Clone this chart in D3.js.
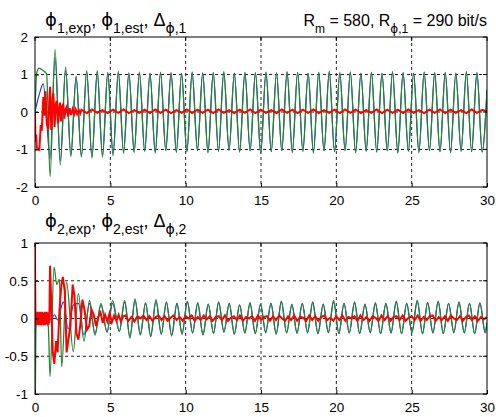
<!DOCTYPE html>
<html><head><meta charset="utf-8">
<script src="https://cdn.jsdelivr.net/npm/d3@7"></script>
<style>body{margin:0;background:#fff}svg{display:block;font-family:Arial,"Liberation Sans",sans-serif}</style>
</head><body><svg id="c" width="496" height="417"></svg>
<script>
// ---------- tick labels ----------
const xTicks = [0, 5, 10, 15, 20, 25, 30];
const yTicks1 = [-2, -1, 0, 1, 2];
const yTicks2 = [-1, -0.5, 0, 0.5, 1];

// ---------- panel 1 (phi_1) ----------
const t1Grid = [1.33,1.68,2.03,2.38,2.73,3.08,3.43,3.78,4.13,4.48,4.83,5.18,5.53,5.88,6.23,6.58,6.93,7.28,7.63,7.98,8.33,8.68,9.03,9.38,9.73,10.08,10.43,10.78,11.13,11.48,11.83,12.18,12.53,12.88,13.23,13.58,13.93,14.28,14.63,14.98,15.33,15.68,16.03,16.38,16.73,17.08,17.43,17.78,18.13,18.48,18.83,19.18,19.53,19.88,20.23,20.58,20.93,21.28,21.63,21.98,22.33,22.68,23.03,23.38,23.73,24.08,24.43,24.78,25.13,25.48,25.83,26.18,26.53,26.88,27.23,27.58,27.93,28.28,28.63,28.98,29.33,29.68];
const t1Head = [0, 0.11, 0.27, 0.55, 0.77, 1.0];
const t1Tail = [30];
// green: phi_1,est
const g1Head = [0, 1.04, 1.17, 1.10, 1.02, -1.72];
const g1Grid = [1.67,-1.41,1.20,-1.19,0.94,-1.20,1.11,-1.23,1.10,-1.20,1.05,-1.17,1.08,-1.10,1.03,-1.08,1.07,-1.04,1.02,-1.10,1.06,-1.02,1.04,-1.08,1.00,-1.05,1.07,-1.02,1.03,-1.09,1.05,-1.04,1.08,-1.00,1.02,-1.07,1.06,-1.03,1.04,-1.10,1.07,-1.05,1.03,-1.02,1.08,-1.08,1.05,-1.04,1.02,-1.10,1.06,-1.03,1.09,-1.06,1.04,-1.02,1.07,-1.09,1.03,-1.04,1.06,-1.07,1.02,-1.03,1.08,-1.10,1.05,-1.04,1.03,-1.08,1.07,-1.02,1.04,-1.06,1.06,-1.09,1.03,-1.04,1.08,-1.05,1.05,-1.07];
const g1Tail = [0.60];
// blue: phi_1,exp
const b1Head = [0, 0.20, 0.45, 0.75, -0.20, -1.25];
const b1Grid = [1.45,-1.30,1.12,-1.15,0.95,-1.17,1.08,-1.20,1.07,-1.16,1.06,-1.12,1.05,-1.08,1.05,-1.06,1.04,-1.05,1.04,-1.07,1.05,-1.03,1.05,-1.06,1.03,-1.06,1.05,-1.03,1.05,-1.07,1.06,-1.05,1.06,-1.03,1.04,-1.06,1.05,-1.04,1.05,-1.08,1.06,-1.06,1.05,-1.03,1.06,-1.07,1.06,-1.05,1.04,-1.08,1.05,-1.04,1.07,-1.06,1.05,-1.03,1.06,-1.08,1.04,-1.05,1.05,-1.06,1.04,-1.04,1.06,-1.08,1.05,-1.05,1.04,-1.07,1.06,-1.03,1.05,-1.06,1.05,-1.08,1.04,-1.05,1.06,-1.06,1.05,-1.06];
const b1Tail = [0.55];
// red: Delta_phi,1
const r1HeadT = [0,0.03,0.08,0.12,0.29,0.38,0.45,0.55,0.62,0.70,0.78,0.88,0.95,1.00,1.08,1.17,1.22,1.30,1.38,1.44,1.52,1.60,1.66,1.72,1.80,1.88,1.95,2.02,2.10,2.20,2.30,2.40,2.50,2.60,2.70,2.80,2.90,3.00];
const r1HeadV = [0,-0.80,-0.60,-0.95,-1.00,-0.35,-0.50,0.40,-0.10,0.55,-0.30,-0.45,0.30,0.67,-0.48,0.35,0.50,-0.40,0.20,0.30,-0.30,0.10,0.25,-0.25,0.15,0.20,-0.18,0.05,0.13,-0.12,0.10,-0.08,0.08,-0.06,0.07,-0.05,0.06,-0.04];
const r1GridV = [0.06,-0.03,0.07,-0.02,0.05,-0.03,0.06,-0.02,0.07,-0.03,0.05,-0.02,0.06,-0.03,0.07,-0.02,0.06,-0.03,0.05,-0.02,0.07,-0.03,0.06,-0.02,0.06,-0.03,0.07,-0.02,0.05,-0.03,0.06,-0.02,0.07,-0.03,0.06,-0.02,0.05,-0.03,0.07,-0.02,0.06,-0.03,0.06,-0.02,0.07,-0.03,0.05,-0.02,0.06,-0.03,0.07,-0.02,0.06,-0.03,0.05,-0.02,0.07,-0.03,0.06,-0.02,0.06,-0.03,0.07,-0.02,0.05,-0.03,0.06,-0.02,0.07,-0.03,0.06,-0.02,0.05,-0.03,0.07,-0.02,0.06];
const r1TailV = [0.02];

// ---------- panel 2 (phi_2) ----------
const t2Grid = [5.95,6.30,6.64,6.99,7.34,7.68,8.03,8.38,8.72,9.07,9.42,9.76,10.11,10.46,10.80,11.15,11.50,11.85,12.19,12.54,12.89,13.23,13.58,13.93,14.27,14.62,14.97,15.31,15.66,16.01,16.35,16.70,17.05,17.39,17.74,18.09,18.43,18.78,19.13,19.47,19.82,20.17,20.51,20.86,21.21,21.55,21.90,22.25,22.59,22.94,23.29,23.63,23.98,24.33,24.67,25.02,25.37,25.72,26.06,26.41,26.76,27.10,27.45,27.80,28.14,28.49,28.84,29.18,29.53,29.88];
const g2HeadT = [0,0.02,0.05,0.10,0.30,0.50,0.70,0.88,1.00,1.26,1.45,1.62,1.77,2.10,2.54,2.88,3.25,3.62,3.98,4.38,4.78,5.15,5.60];
const g2HeadV = [0.12,-1.00,-0.30,0.05,-0.03,0.04,-0.02,-0.10,-0.77,0.68,0.45,0.52,-0.64,0.48,-0.44,0.33,-0.30,0.24,-0.22,0.20,-0.18,0.24,-0.17];
const g2Grid = [0.24,-0.26,0.26,-0.22,0.21,-0.24,0.25,-0.20,0.22,-0.23,0.20,-0.21,0.23,-0.19,0.21,-0.22,0.19,-0.20,0.22,-0.18,0.20,-0.21,0.18,-0.19,0.21,-0.20,0.19,-0.18,0.20,-0.21,0.23,-0.19,0.18,-0.20,0.20,-0.18,0.22,-0.20,0.19,-0.18,0.24,-0.20,0.20,-0.19,0.22,-0.20,0.19,-0.18,0.21,-0.20,0.20,-0.19,0.23,-0.20,0.20,-0.18,0.24,-0.20,0.21,-0.19,0.23,-0.20,0.20,-0.18,0.22,-0.19,0.20,-0.20,0.21,-0.18];
const g2TailV = [-0.05];
const b2HeadT = [0,1.00,1.30,1.50,1.88,2.20,2.55,2.88,3.25,3.62,3.98,4.38,4.78,5.15,5.60];
const b2HeadV = [0,-0.02,0.05,-0.02,0.22,-0.14,0.18,0.20,-0.22,0.20,-0.20,0.18,-0.18,0.20,-0.17];
const b2Grid = [0.22,-0.24,0.24,-0.21,0.20,-0.23,0.23,-0.21,0.21,-0.22,0.20,-0.20,0.22,-0.19,0.20,-0.21,0.19,-0.19,0.21,-0.18,0.20,-0.20,0.18,-0.19,0.20,-0.20,0.19,-0.19,0.20,-0.20,0.22,-0.19,0.19,-0.19,0.20,-0.19,0.21,-0.20,0.19,-0.19,0.22,-0.20,0.20,-0.19,0.21,-0.20,0.19,-0.19,0.20,-0.20,0.20,-0.19,0.22,-0.20,0.20,-0.19,0.23,-0.20,0.21,-0.19,0.22,-0.20,0.20,-0.19,0.21,-0.19,0.20,-0.20,0.20,-0.19];
const b2TailV = [-0.06];
const r2HeadT = [0,0.01,0.03,0.05,0.075,0.10,0.125,0.15,0.175,0.20,0.225,0.25,0.275,0.30,0.325,0.35,0.375,0.40,0.425,0.45,0.475,0.50,0.525,0.55,0.575,0.60,0.625,0.65,0.675,0.70,0.725,0.75,0.775,0.80,0.825,0.85,0.875,0.90,0.925,0.95,1.00,1.08,1.18,1.28,1.40,1.50,1.62,1.75,1.85,1.98,2.10,2.20,2.35,2.50,2.62,2.75,2.88,3.00,3.15,3.30,3.45,3.60,3.75,3.90,4.05,4.20,4.35,4.50,4.65,4.80,4.95,5.10,5.25,5.40,5.55,5.70,5.85];
const r2HeadV = [1.00,0.50,0.05,-0.08,0.08,-0.09,0.07,-0.08,0.09,-0.07,0.08,-0.09,0.08,-0.08,0.09,-0.08,0.07,-0.09,0.08,-0.08,0.09,-0.07,0.08,-0.09,0.08,-0.08,0.07,-0.09,0.09,-0.08,0.08,-0.07,0.09,-0.08,0.08,-0.09,0.07,-0.08,0.08,-0.06,0.70,0.20,-0.45,-0.60,-0.30,-0.45,0.10,0.45,0.55,0.35,-0.45,-0.30,-0.10,0.45,0.30,-0.20,-0.28,-0.10,0.25,0.10,-0.15,-0.10,0.12,0.05,-0.10,0.02,0.08,-0.06,0.05,-0.04,0.07,-0.05,0.04,-0.03,0.05,-0.04,0.03];
const r2GridT = [6.0,6.2,6.4,6.6,6.8,7.0,7.2,7.4,7.6,7.8,8.0,8.2,8.4,8.6,8.8,9.0,9.2,9.4,9.6,9.8,10.0,10.2,10.4,10.6,10.8,11.0,11.2,11.4,11.6,11.8,12.0,12.2,12.4,12.6,12.8,13.0,13.2,13.4,13.6,13.8,14.0,14.2,14.4,14.6,14.8,15.0,15.2,15.4,15.6,15.8,16.0,16.2,16.4,16.6,16.8,17.0,17.2,17.4,17.6,17.8,18.0,18.2,18.4,18.6,18.8,19.0,19.2,19.4,19.6,19.8,20.0,20.2,20.4,20.6,20.8,21.0,21.2,21.4,21.6,21.8,22.0,22.2,22.4,22.6,22.8,23.0,23.2,23.4,23.6,23.8,24.0,24.2,24.4,24.6,24.8,25.0,25.2,25.4,25.6,25.8,26.0,26.2,26.4,26.6,26.8,27.0,27.2,27.4,27.6,27.8,28.0,28.2,28.4,28.6,28.8,29.0,29.2,29.4,29.6,29.8,30.0];
const r2GridV = [0.04,-0.03,0.02,-0.04,0.03,0.00,0.04,-0.02,0.03,-0.03,0.02,0.04,-0.02,0.03,-0.03,0.01,0.04,-0.02,0.02,-0.03,0.03,0.00,0.04,-0.03,0.02,-0.02,0.04,-0.01,0.03,-0.03,0.02,0.03,-0.02,0.04,-0.03,0.01,0.03,-0.02,0.04,-0.03,0.02,0.00,0.03,-0.03,0.04,-0.02,0.02,0.03,-0.03,0.03,-0.02,0.04,0.00,-0.03,0.03,-0.02,0.04,-0.03,0.02,0.01,-0.03,0.04,-0.02,0.03,-0.03,0.02,0.04,-0.02,0.01,-0.03,0.03,-0.02,0.04,-0.03,0.02,0.00,0.03,-0.03,0.04,-0.02,0.02,-0.03,0.03,0.01,-0.03,0.04,-0.02,0.03,-0.03,0.02,0.03,-0.02,0.04,-0.03,0.01,0.03,-0.02,0.04,-0.03,0.02,-0.02,0.03,0.04,-0.03,0.02,-0.02,0.03,-0.03,0.04,0.00,-0.02,0.03,-0.03,0.02,0.04,-0.02,0.03,-0.03,0.02,-0.01,0.02];

// ---------- assemble series ----------
function zip(ts, vs){ const n=Math.min(ts.length, vs.length); const out=[]; for(let i=0;i<n;i++) out.push([ts[i], vs[i]]); return out; }
const t1All = t1Head.concat(t1Grid, t1Tail);
const s1 = {
  blue: zip(t1All, b1Head.concat(b1Grid, b1Tail)),
  green: zip(t1All, g1Head.concat(g1Grid, g1Tail)),
  red: zip(r1HeadT.concat(t1Grid.filter(t => t > 3.05), t1Tail), r1HeadV.concat(r1GridV, r1TailV))
};
const s2 = {
  blue: zip(b2HeadT.concat(t2Grid, [30]), b2HeadV.concat(b2Grid, b2TailV)),
  green: zip(g2HeadT.concat(t2Grid, [30]), g2HeadV.concat(g2Grid, g2TailV)),
  red: zip(r2HeadT.concat(r2GridT), r2HeadV.concat(r2GridV))
};

const svg = d3.select("#c");
const X0 = 35, X1 = 487;

function panel(top, bottom, yDom, yTicks, series, id){
  const x = d3.scaleLinear([0, 30], [X0, X1]);
  const y = d3.scaleLinear(yDom, [bottom, top]);
  const g = svg.append("g");
  g.append("rect").attr("x", X0).attr("y", top).attr("width", X1 - X0).attr("height", bottom - top).attr("fill", "#fff");
  // grid
  g.selectAll(".gx").data(xTicks.slice(1, -1)).join("line")
    .attr("x1", d => x(d)).attr("x2", d => x(d)).attr("y1", top).attr("y2", bottom)
    .attr("stroke", "#222").attr("stroke-width", 1).attr("stroke-dasharray", "3,3");
  g.selectAll(".gy").data(yTicks.slice(1, -1)).join("line")
    .attr("x1", X0).attr("x2", X1).attr("y1", d => y(d)).attr("y2", d => y(d))
    .attr("stroke", "#222").attr("stroke-width", 1).attr("stroke-dasharray", "3,3");
  // clip
  svg.append("clipPath").attr("id", id).append("rect")
    .attr("x", X0).attr("y", top).attr("width", X1 - X0).attr("height", bottom - top);
  const line = d3.line().x(d => x(d[0])).y(d => y(d[1]));
  const gl = g.append("g").attr("clip-path", `url(#${id})`);
  gl.append("path").datum(series.blue).attr("d", line.curve(d3.curveMonotoneX))
    .attr("fill", "none").attr("stroke", "#1f2fd0").attr("stroke-width", 1.1);
  gl.append("path").datum(series.green).attr("d", line.curve(d3.curveMonotoneX))
    .attr("fill", "none").attr("stroke", "#25852f").attr("stroke-width", 1.3);
  gl.append("path").datum(series.red).attr("d", line.curve(d3.curveLinear))
    .attr("fill", "none").attr("stroke", "#ff0000").attr("stroke-width", 2);
  // axes
  const ax = g.append("g").attr("transform", `translate(0,${bottom})`)
    .call(d3.axisBottom(x).tickValues(xTicks).tickSize(-4).tickPadding(8).tickFormat(d3.format("d")));
  const ay = g.append("g").attr("transform", `translate(${X0},0)`)
    .call(d3.axisLeft(y).tickValues(yTicks).tickSize(-4).tickPadding(7).tickFormat(d => String(d)));
  [ax, ay].forEach(a => {
    a.select(".domain").remove();
    a.selectAll("line").attr("stroke", "#000");
    a.selectAll("text").attr("fill", "#000").attr("font-size", 13.5).attr("font-family", "Arial, 'Liberation Sans', sans-serif");
  });
  g.append("rect").attr("x", X0).attr("y", top).attr("width", X1 - X0).attr("height", bottom - top)
    .attr("fill", "none").attr("stroke", "#000").attr("stroke-width", 1);
  // right tick marks
  g.selectAll(".ry").data(yTicks).join("line").attr("x1", X1).attr("x2", X1 - 4)
    .attr("y1", d => y(d)).attr("y2", d => y(d)).attr("stroke", "#000");
  g.selectAll(".tx").data(xTicks).join("line").attr("y1", top).attr("y2", top + 4)
    .attr("x1", d => x(d)).attr("x2", d => x(d)).attr("stroke", "#000");
}

panel(37, 187, [-2, 2], yTicks1, s1, "cp1");
panel(243, 394, [-1, 1], yTicks2, s2, "cp2");

// ---------- titles ----------
function title(xp, yp, parts, anchor, main, sub){
  const t = svg.append("text").attr("x", xp).attr("y", yp).attr("font-size", main)
    .attr("text-anchor", anchor || "start").attr("fill", "#000");
  let lvl = 0;
  parts.forEach(p => {
    const s = t.append("tspan").text(p.s);
    const target = p.sub ? 1 : 0;
    if (target !== lvl) { s.attr("dy", target ? 7 : -7); lvl = target; }
    if (p.sub) s.attr("font-size", sub);
    if (p.sym) s.attr("font-family", "'DejaVu Sans', sans-serif");
  });
}
const phi = "\u03D5";
title(45, 26, [
  {s: phi, sym: 1}, {s: "1,exp", sub: 1}, {s: ", "}, {s: phi, sym: 1}, {s: "1,est", sub: 1},
  {s: ", \u0394"}, {s: phi, sub: 1, sym: 1}, {s: ",1", sub: 1}
], "start", 18, 14);
title(487, 26, [
  {s: "R"}, {s: "m", sub: 1}, {s: " = 580, R"}, {s: phi, sub: 1, sym: 1}, {s: ",1", sub: 1}, {s: " = 290 bit/s"}
], "end", 16, 12);
title(45, 227, [
  {s: phi, sym: 1}, {s: "2,exp", sub: 1}, {s: ", "}, {s: phi, sym: 1}, {s: "2,est", sub: 1},
  {s: ", \u0394"}, {s: phi, sub: 1, sym: 1}, {s: ",2", sub: 1}
], "start", 18, 14);
</script></body></html>
